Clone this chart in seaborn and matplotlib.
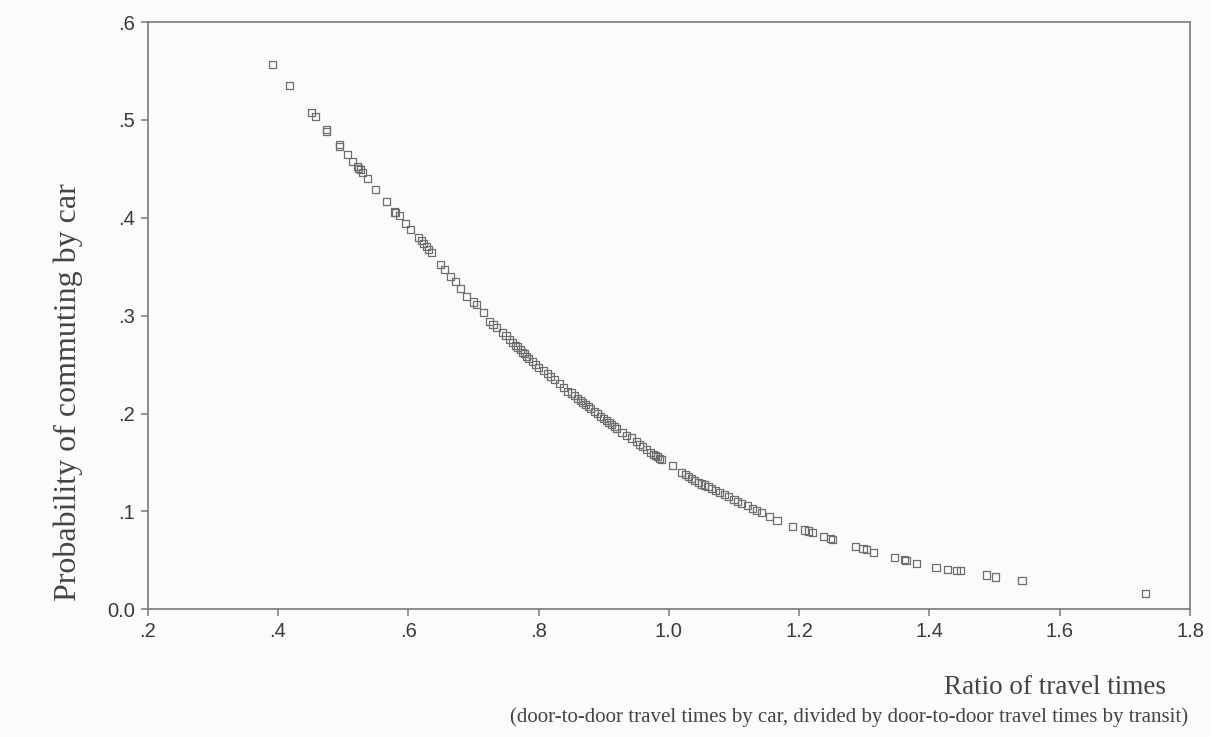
import matplotlib
matplotlib.use("Agg")
import matplotlib.pyplot as plt
import seaborn as sns
import pandas as pd

# Ratio of travel times (car / transit)
ratio = [
    0.392, 0.418, 0.452, 0.457, 0.475, 0.475, 0.494, 0.494, 0.506, 0.515,
    0.522, 0.524, 0.526, 0.530, 0.537, 0.550, 0.566, 0.579, 0.580, 0.586,
    0.595, 0.604, 0.615, 0.620, 0.623, 0.628, 0.631, 0.635, 0.650, 0.655,
    0.665, 0.672, 0.680, 0.690, 0.700, 0.705, 0.715, 0.725, 0.730, 0.735,
    0.745, 0.750, 0.755, 0.760, 0.765, 0.768, 0.772, 0.775, 0.778, 0.782,
    0.785, 0.790, 0.795, 0.800, 0.807, 0.813, 0.818, 0.825, 0.832, 0.838,
    0.845, 0.850, 0.855, 0.860, 0.864, 0.868, 0.872, 0.876, 0.880, 0.886,
    0.890, 0.895, 0.900, 0.904, 0.908, 0.912, 0.916, 0.920, 0.928, 0.935,
    0.942, 0.950, 0.955, 0.960, 0.966, 0.972, 0.976, 0.979, 0.982, 0.985,
    0.988, 1.005, 1.020, 1.025, 1.030, 1.034, 1.040, 1.045, 1.050, 1.055,
    1.060, 1.066, 1.072, 1.078, 1.085, 1.092, 1.100, 1.106, 1.112, 1.120,
    1.128, 1.135, 1.142, 1.155, 1.166, 1.190, 1.208, 1.214, 1.221, 1.237,
    1.248, 1.251, 1.287, 1.298, 1.303, 1.314, 1.347, 1.362, 1.364, 1.380,
    1.410, 1.428, 1.441, 1.447, 1.487, 1.501, 1.542, 1.731,
]
# Probability of commuting by car
prob = [
    0.557, 0.535, 0.508, 0.504, 0.490, 0.488, 0.475, 0.473, 0.465, 0.458,
    0.452, 0.450, 0.449, 0.446, 0.440, 0.429, 0.417, 0.406, 0.405, 0.402,
    0.394, 0.388, 0.380, 0.377, 0.374, 0.371, 0.368, 0.365, 0.352, 0.347,
    0.340, 0.335, 0.328, 0.320, 0.314, 0.311, 0.303, 0.294, 0.291, 0.288,
    0.283, 0.280, 0.276, 0.273, 0.270, 0.268, 0.265, 0.262, 0.261, 0.258,
    0.256, 0.253, 0.250, 0.247, 0.244, 0.241, 0.238, 0.235, 0.231, 0.227,
    0.223, 0.221, 0.218, 0.215, 0.213, 0.211, 0.209, 0.207, 0.205, 0.202,
    0.200, 0.197, 0.195, 0.193, 0.191, 0.189, 0.187, 0.185, 0.181, 0.178,
    0.175, 0.171, 0.168, 0.166, 0.163, 0.160, 0.158, 0.157, 0.156, 0.154,
    0.153, 0.147, 0.140, 0.138, 0.136, 0.134, 0.132, 0.130, 0.128, 0.127,
    0.125, 0.123, 0.121, 0.119, 0.117, 0.115, 0.112, 0.110, 0.108, 0.106,
    0.103, 0.101, 0.099, 0.095, 0.091, 0.085, 0.081, 0.080, 0.078, 0.074,
    0.072, 0.071, 0.064, 0.062, 0.061, 0.058, 0.053, 0.051, 0.050, 0.047,
    0.043, 0.041, 0.040, 0.040, 0.035, 0.033, 0.029, 0.016,
]

x_ticks = [0.2, 0.4, 0.6, 0.8, 1.0, 1.2, 1.4, 1.6, 1.8]
x_tick_labels = [".2", ".4", ".6", ".8", "1.0", "1.2", "1.4", "1.6", "1.8"]
y_ticks = [0.0, 0.1, 0.2, 0.3, 0.4, 0.5, 0.6]
y_tick_labels = ["0.0", ".1", ".2", ".3", ".4", ".5", ".6"]

df = pd.DataFrame({"ratio": ratio, "prob": prob})

sns.set_theme(style="white")
plt.rcParams["font.family"] = ["Liberation Sans", "DejaVu Sans"]

bg = "#fbfbfb"
fig = plt.figure(figsize=(12.11, 7.37), dpi=100, facecolor=bg)
ax = fig.add_axes([0.122, 0.1733, 0.8607, 0.7967])
ax.set_facecolor(bg)

sns.scatterplot(data=df, x="ratio", y="prob", ax=ax, marker="s", s=26,
                facecolors="none", edgecolor="#6e6e6e", linewidth=0.9, legend=False)

ax.set_xlim(0.2, 1.8)
ax.set_ylim(0.0, 0.6)
ax.set_xticks(x_ticks)
ax.set_xticklabels(x_tick_labels)
ax.set_yticks(y_ticks)
ax.set_yticklabels(y_tick_labels)
ax.set_xlabel("")
ax.set_ylabel("")

for sp in ax.spines.values():
    sp.set_color("#7a7a7a")
    sp.set_linewidth(1.2)
    sp.set_visible(True)

ax.tick_params(axis="both", which="both", direction="out", length=5, width=1.1,
               color="#7a7a7a", labelsize=14.5, labelcolor="#3a3a3a",
               top=False, right=False, bottom=True, left=True, pad=4)

serif = ["Liberation Serif", "DejaVu Serif"]
fig.text(68 / 1211, 1 - 392 / 737, "Probability of commuting by car", rotation=90,
         ha="center", va="center", fontsize=23, family=serif, color="#444444")
fig.text(1166 / 1211, 1 - 688 / 737, "Ratio of travel times", ha="right", va="center",
         fontsize=19.5, family=serif, color="#444444")
fig.text(1188 / 1211, 1 - 717 / 737,
         "(door-to-door travel times by car, divided by door-to-door travel times by transit)",
         ha="right", va="center", fontsize=15, family=serif, color="#444444")

fig.savefig("out.png", dpi=100, facecolor=bg)
